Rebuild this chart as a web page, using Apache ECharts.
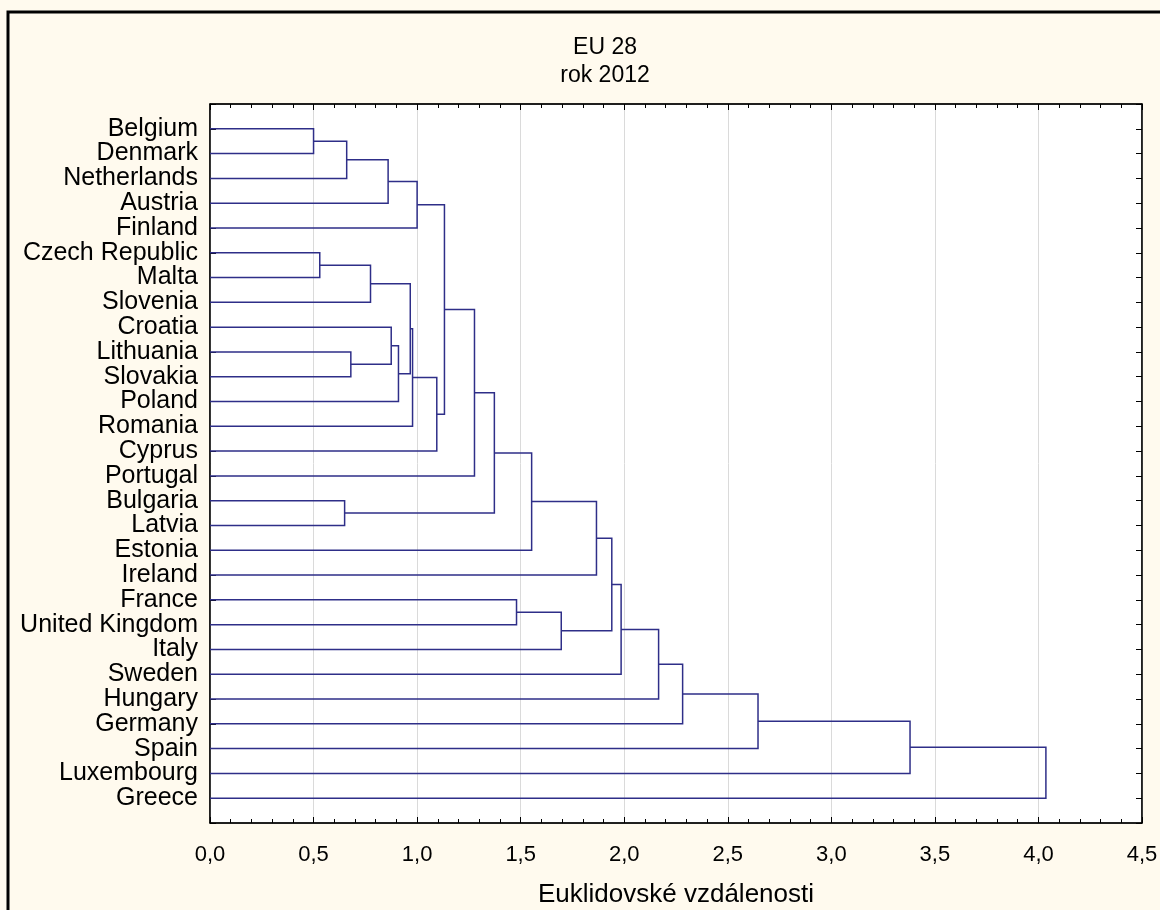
<!DOCTYPE html>
<html><head><meta charset="utf-8">
<script src="https://cdn.jsdelivr.net/npm/echarts@6/dist/echarts.min.js"></script>
<style>html,body{margin:0;padding:0;background:#fffaee}#c{width:1160px;height:910px}</style>
</head><body><div id="c"></div>
<script>
// Leaf order (top to bottom)
const countries = ['Belgium','Denmark','Netherlands','Austria','Finland','Czech Republic','Malta','Slovenia','Croatia','Lithuania','Slovakia','Poland','Romania','Cyprus','Portugal','Bulgaria','Latvia','Estonia','Ireland','France','United Kingdom','Italy','Sweden','Hungary','Germany','Spain','Luxembourg','Greece'];
// Linkage: [node A, node B, distance]; leaves 0..27, new clusters numbered 28, 29, ...
const merges = [
  [0, 1, 0.50],    // 28
  [5, 6, 0.53],    // 29
  [15, 16, 0.65],  // 30
  [28, 2, 0.66],   // 31
  [9, 10, 0.68],   // 32
  [29, 7, 0.775],  // 33
  [31, 3, 0.86],   // 34
  [8, 32, 0.875],  // 35
  [35, 11, 0.91],  // 36
  [33, 36, 0.967], // 37
  [37, 12, 0.978], // 38
  [34, 4, 1.00],   // 39
  [38, 13, 1.095], // 40
  [39, 40, 1.132], // 41
  [41, 14, 1.277], // 42
  [42, 30, 1.373], // 43
  [19, 20, 1.48],  // 44
  [43, 17, 1.553], // 45
  [44, 21, 1.696], // 46
  [45, 18, 1.866], // 47
  [47, 46, 1.94],  // 48
  [48, 22, 1.985], // 49
  [49, 23, 2.166], // 50
  [50, 24, 2.282], // 51
  [51, 25, 2.646], // 52
  [52, 26, 3.38],  // 53
  [53, 27, 4.036]  // 54
];
const xTickLabels = ['0,0','0,5','1,0','1,5','2,0','2,5','3,0','3,5','4,0','4,5'];
const titleText = ['EU 28', 'rok 2012'];
const xName = 'Euklidovské vzdálenosti';

const nodeY = countries.map((_, i) => i + 1);
const nodeH = countries.map(() => 0);
const segs = [];
merges.forEach(([a, b, h]) => {
  segs.push({ coords: [[nodeH[a], nodeY[a]], [h, nodeY[a]], [h, nodeY[b]], [nodeH[b], nodeY[b]]] });
  nodeY.push((nodeY[a] + nodeY[b]) / 2);
  nodeH.push(h);
});

const FONT = "'Liberation Sans', Arial, sans-serif";
const chart = echarts.init(document.getElementById('c'), null, { renderer: 'canvas' });
const xBase = {
  type: 'value', min: 0, max: 4.5, interval: 0.5,
  axisLine: { show: true, onZero: false, lineStyle: { color: '#000', width: 1.5 } },
  axisTick: { show: true, inside: true, length: 6, lineStyle: { color: '#000', width: 1 } },
  minorTick: { show: true, splitNumber: 5, length: 4, lineStyle: { color: '#000', width: 1 } },
};
const yBase = {
  type: 'value', min: 0, max: 29, interval: 1, inverse: true,
  axisLine: { show: true, onZero: false, lineStyle: { color: '#000', width: 1.5 } },
  axisTick: { show: true, inside: true, length: 6, lineStyle: { color: '#000', width: 1 } },
  splitLine: { show: false }
};
chart.setOption({
  backgroundColor: '#fffaee',
  animation: false,
  title: {
    text: titleText.join('\n'), left: 600, top: 29, textAlign: 'center',
    textStyle: { fontFamily: FONT, fontSize: 23, fontWeight: 'normal', color: '#000', lineHeight: 28 }
  },
  graphic: [{
    type: 'rect', shape: { x: 8, y: 12, width: 1200, height: 920 },
    style: { fill: 'none', stroke: '#000', lineWidth: 3 }, silent: true, z: 100
  }],
  grid: { left: 210, right: 18, top: 104, bottom: 87, outerBoundsMode: 'none', containLabel: false, show: true, backgroundColor: '#fff', borderColor: '#000', borderWidth: 1 },
  xAxis: [
    Object.assign({}, xBase, {
      position: 'bottom',
      axisLabel: { formatter: v => xTickLabels[Math.round(v / 0.5)], fontFamily: FONT, fontSize: 22, color: '#000', margin: 21 },
      splitLine: { show: true, lineStyle: { color: '#dadada', width: 1 } },
      name: xName, nameLocation: 'middle', nameGap: 59,
      nameTextStyle: { fontFamily: FONT, fontSize: 26, color: '#000' }
    }),
    Object.assign({}, xBase, { position: 'top', axisLabel: { show: false }, splitLine: { show: false } })
  ],
  yAxis: [
    Object.assign({}, yBase, {
      position: 'left',
      axisLabel: { formatter: v => countries[v - 1] || '', fontFamily: FONT, fontSize: 25, color: '#000', margin: 12 }
    }),
    Object.assign({}, yBase, { position: 'right', axisLabel: { show: false } })
  ],
  series: [{
    type: 'lines', coordinateSystem: 'cartesian2d', polyline: true,
    xAxisIndex: 0, yAxisIndex: 0,
    lineStyle: { color: '#2e2e88', width: 1.5, opacity: 1 },
    data: segs, silent: true
  }]
});
</script></body></html>
